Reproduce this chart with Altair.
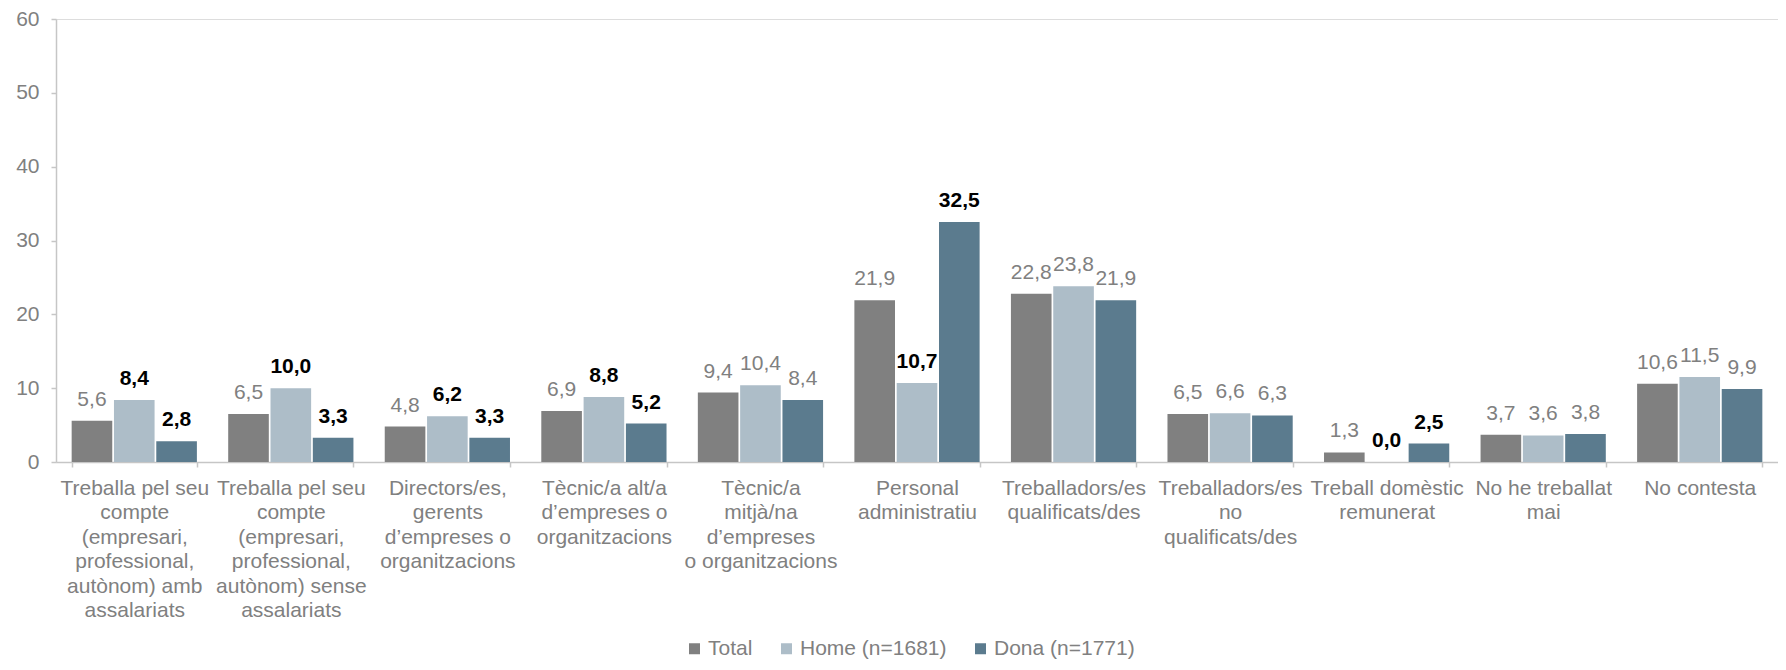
import altair as alt
import pandas as pd

categories = [
    "Treballa pel seu|compte|(empresari,|professional,|autònom) amb|assalariats",
    "Treballa pel seu|compte|(empresari,|professional,|autònom) sense|assalariats",
    "Directors/es,|gerents|d’empreses o|organitzacions",
    "Tècnic/a alt/a|d’empreses o|organitzacions",
    "Tècnic/a|mitjà/na|d’empreses|o organitzacions",
    "Personal|administratiu",
    "Treballadors/es|qualificats/des",
    "Treballadors/es|no|qualificats/des",
    "Treball domèstic|remunerat",
    "No he treballat|mai",
    "No contesta",
]
series = ["Total", "Home (n=1681)", "Dona (n=1771)"]
total = [5.6, 6.5, 4.8, 6.9, 9.4, 21.9, 22.8, 6.5, 1.3, 3.7, 10.6]
home = [8.4, 10.0, 6.2, 8.8, 10.4, 10.7, 23.8, 6.6, 0.0, 3.6, 11.5]
dona = [2.8, 3.3, 3.3, 5.2, 8.4, 32.5, 21.9, 6.3, 2.5, 3.8, 9.9]
# categories where the Home / Dona values are highlighted (bold)
highlight = [True, True, True, True, False, True, False, False, True, False, False]
colors = ["#808080", "#adbdc8", "#5b7b8e"]

rows = []
for i, cat in enumerate(categories):
    for s, vals in zip(series, [total, home, dona]):
        v = vals[i]
        rows.append({
            "cat": cat,
            "serie": s,
            "value": v,
            "label": f"{v:.1f}".replace(".", ","),
            "bold": bool(highlight[i] and s != "Total"),
        })
df = pd.DataFrame(rows)

FONT = "Liberation Sans"
GRAY = "#808080"
LINE = "#c6c6c6"

base = alt.Chart(df).encode(
    x=alt.X(
        "cat:N",
        sort=categories,
        scale=alt.Scale(domain=categories, paddingInner=0.2, paddingOuter=0.1),
        axis=alt.Axis(
            title=None,
            labelExpr="split(datum.label, '|')",
            labelAngle=0,
            tickBand="extent",
            labelColor=GRAY,
            labelFontSize=21,
            labelFont=FONT,
            labelLineHeight=24.5,
            labelPadding=10,
            labelLimit=400,
            labelOverlap=False,
            domainColor=LINE,
            domainWidth=1.5,
            tickColor=LINE,
            tickWidth=1.5,
            tickSize=5,
        ),
    ),
    xOffset=alt.XOffset("serie:N", sort=series,
                        scale=alt.Scale(domain=series, paddingInner=0.04)),
    y=alt.Y(
        "value:Q",
        scale=alt.Scale(domain=[0, 60]),
        axis=alt.Axis(
            title=None,
            values=[0, 10, 20, 30, 40, 50, 60],
            grid=False,
            labelColor=GRAY,
            labelFontSize=21,
            labelFont=FONT,
            labelPadding=12,
            domainColor=LINE,
            domainWidth=1.5,
            tickColor=LINE,
            tickWidth=1.5,
            tickSize=5,
        ),
    ),
)

bars = base.mark_bar().encode(
    color=alt.Color(
        "serie:N",
        sort=series,
        scale=alt.Scale(domain=series, range=colors),
        legend=alt.Legend(
            title=None,
            orient="none",
            legendX=628,
            legendY=619,
            direction="horizontal",
            symbolType="square",
            symbolSize=121,
            symbolStrokeWidth=0,
            labelFontSize=21,
            labelFont=FONT,
            labelColor=GRAY,
            labelOffset=3,
            columnPadding=23,
            padding=0,
        ),
    )
)

text_normal = base.transform_filter("!datum.bold").mark_text(
    baseline="alphabetic", dy=-15, font=FONT, fontSize=21, color=GRAY
).encode(text="label:N")

text_bold = base.transform_filter("datum.bold").mark_text(
    baseline="alphabetic", dy=-15, font=FONT, fontSize=21, color="#000000",
    fontWeight="bold"
).encode(text="label:N")

chart = (
    alt.layer(bars, text_normal, text_bold)
    .properties(
        width=1722,
        height=443,
        padding={"left": 48, "top": 11, "right": 0, "bottom": 200},
        autosize="none",
    )
    .configure_view(stroke=None)
    .configure(font=FONT)
)

chart.save("out.html", embed_options={"renderer": "svg", "actions": False})
